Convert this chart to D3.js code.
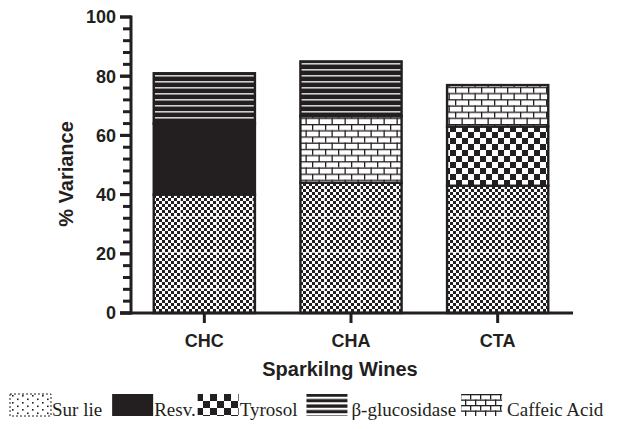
<!DOCTYPE html>
<html>
<head>
<meta charset="utf-8">
<script src="https://cdn.jsdelivr.net/npm/d3@7"></script>
<style>
  body { margin: 0; background: #fff; }
  svg { display: block; }
</style>
</head>
<body>
<svg id="chart" width="617" height="429"></svg>
<script>
// categories and series (stack order bottom -> top)
const wines = ['CHC', 'CHA', 'CTA'];
const seriesKeys = ['Sur lie', 'Resv.', 'Tyrosol', 'Caffeic Acid', 'β-glucosidase'];
const surLie = [40, 44, 43];
const resv = [24, 0, 0];
const tyrosol = [0, 0, 20];
const caffeic = [0, 22.5, 14];
const bGluc = [17, 18.5, 0];
const yTicks = [0, 20, 40, 60, 80, 100];
const legendOrder = ['Sur lie', 'Resv.', 'Tyrosol', 'β-glucosidase', 'Caffeic Acid'];

const ink = '#231f20';
const svg = d3.select('#chart');
const defs = svg.append('defs');

// build table for d3.stack
const table = wines.map((w, i) => ({
    wine: w,
    'Sur lie': surLie[i],
    'Resv.': resv[i],
    'Tyrosol': tyrosol[i],
    'Caffeic Acid': caffeic[i],
    'β-glucosidase': bGluc[i]
}));

// ---- patterns ----
function pattern(id, w, h) {
    const p = defs.append('pattern')
        .attr('id', id)
        .attr('patternUnits', 'userSpaceOnUse')
        .attr('width', w)
        .attr('height', h);
    return p;
}

// fine checker (Sur lie, bars)
const pSur = pattern('surlie', 36, 36);
pSur.append('rect').attr('width', 36).attr('height', 36).attr('fill', '#fff');
for (let i = 0; i < 12; i++) {
    for (let j = 0; j < 12; j++) {
        if ((i + j) % 2 === 0) {
            pSur.append('rect').attr('x', i * 3).attr('y', j * 3)
                .attr('width', 3).attr('height', 3).attr('fill', ink);
        }
    }
}
pSur.append('rect').attr('x', 0).attr('y', 0).attr('width', 1).attr('height', 36).attr('fill', '#fff').attr('opacity', 0.7);
pSur.append('rect').attr('x', 0).attr('y', 0).attr('width', 36).attr('height', 1).attr('fill', '#fff').attr('opacity', 0.7);

// sparse dots (Sur lie, legend)
const pSurLeg = pattern('surlieLeg', 10, 7);
pSurLeg.append('rect').attr('width', 10).attr('height', 7).attr('fill', '#fff');
pSurLeg.append('rect').attr('x', 2).attr('y', 1).attr('width', 1.6).attr('height', 1.6).attr('fill', ink);
pSurLeg.append('rect').attr('x', 7).attr('y', 4.5).attr('width', 1.6).attr('height', 1.6).attr('fill', ink);

// large checker (Tyrosol)
function checker(id, s) {
    const p = pattern(id, s * 2, s * 2);
    p.append('rect').attr('width', s * 2).attr('height', s * 2).attr('fill', '#fff');
    p.append('rect').attr('width', s).attr('height', s).attr('fill', ink);
    p.append('rect').attr('x', s).attr('y', s).attr('width', s).attr('height', s).attr('fill', ink);
}
checker('tyrosol', 6);
checker('tyrosolLeg', 7);

// brick (Caffeic Acid)
function brick(id, bw, bh) {
    const p = pattern(id, bw * 2, bh * 2);
    p.append('rect').attr('width', bw * 2).attr('height', bh * 2).attr('fill', '#fff');
    const lw = 1.3;
    p.append('rect').attr('y', 0).attr('width', bw * 2).attr('height', lw).attr('fill', ink);
    p.append('rect').attr('y', bh).attr('width', bw * 2).attr('height', lw).attr('fill', ink);
    p.append('rect').attr('x', 0).attr('y', 0).attr('width', lw).attr('height', bh).attr('fill', ink);
    p.append('rect').attr('x', bw).attr('y', 0).attr('width', lw).attr('height', bh).attr('fill', ink);
    p.append('rect').attr('x', bw / 2).attr('y', bh).attr('width', lw).attr('height', bh).attr('fill', ink);
    p.append('rect').attr('x', bw * 1.5).attr('y', bh).attr('width', lw).attr('height', bh).attr('fill', ink);
}
brick('caffeic', 13, 6.2);
brick('caffeicLeg', 10, 5.5);

// horizontal stripes (beta-glucosidase)
function stripes(id, period, lineH, color) {
    const p = pattern(id, 10, period);
    p.append('rect').attr('width', 10).attr('height', period).attr('fill', ink);
    p.append('rect').attr('y', period / 2).attr('width', 10).attr('height', lineH).attr('fill', color);
}
stripes('bgluc', 6, 1.6, '#d0d0d0');
stripes('bglucLeg', 5.5, 2.2, '#fff');

const fillFor = {
    'Sur lie': 'url(#surlie)',
    'Resv.': ink,
    'Tyrosol': 'url(#tyrosol)',
    'Caffeic Acid': 'url(#caffeic)',
    'β-glucosidase': 'url(#bgluc)'
};
const legendFill = {
    'Sur lie': 'url(#surlieLeg)',
    'Resv.': ink,
    'Tyrosol': 'url(#tyrosolLeg)',
    'Caffeic Acid': 'url(#caffeicLeg)',
    'β-glucosidase': 'url(#bglucLeg)'
};

// ---- scales ----
const x = d3.scaleBand()
    .domain(wines)
    .range([131, 571])
    .paddingInner(0.31)
    .paddingOuter(0.155);

const y = d3.scaleLinear()
    .domain([0, 100])
    .range([313, 17]);

// ---- bars ----
const stacked = d3.stack().keys(seriesKeys)(table);

svg.append('g')
    .selectAll('g')
    .data(stacked)
    .join('g')
    .attr('fill', d => fillFor[d.key])
    .selectAll('rect')
    .data(d => d.filter(s => s[1] - s[0] > 0))
    .join('rect')
    .attr('x', d => x(d.data.wine))
    .attr('y', d => y(d[1]))
    .attr('width', x.bandwidth())
    .attr('height', d => y(d[0]) - y(d[1]))
    .attr('stroke', ink)
    .attr('stroke-width', 2.4);

// ---- y axis ----
const yAxis = svg.append('g').attr('transform', 'translate(131,0)');
yAxis.append('line')
    .attr('y1', y(0) + 1.5).attr('y2', y(100) - 1.5)
    .attr('stroke', ink).attr('stroke-width', 3);

const minorTicks = d3.range(0, 101, 4);
yAxis.selectAll('line.tick')
    .data(minorTicks.concat(yTicks))
    .join('line')
    .attr('class', 'tick')
    .attr('x1', d => yTicks.includes(d) ? -11 : -8)
    .attr('x2', 0)
    .attr('y1', d => y(d)).attr('y2', d => y(d))
    .attr('stroke', ink).attr('stroke-width', 3);

yAxis.selectAll('text')
    .data(yTicks)
    .join('text')
    .attr('x', -15)
    .attr('y', d => y(d))
    .attr('dy', '0.36em')
    .attr('text-anchor', 'end')
    .attr('font-family', 'Liberation Sans, Arial, sans-serif')
    .attr('font-weight', 'bold')
    .attr('font-size', 18)
    .attr('fill', ink)
    .text(d => d);

svg.append('text')
    .attr('transform', 'translate(73,174) rotate(-90)')
    .attr('text-anchor', 'middle')
    .attr('font-family', 'Liberation Sans, Arial, sans-serif')
    .attr('font-weight', 'bold')
    .attr('font-size', 20)
    .attr('fill', ink)
    .text('% Variance');

// ---- x axis ----
const xAxis = svg.append('g').attr('transform', `translate(0,${y(0)})`);
xAxis.append('line')
    .attr('x1', 120).attr('x2', 573)
    .attr('stroke', ink).attr('stroke-width', 3);

xAxis.selectAll('line.tick')
    .data(wines)
    .join('line')
    .attr('class', 'tick')
    .attr('x1', d => x(d) + x.bandwidth() / 2)
    .attr('x2', d => x(d) + x.bandwidth() / 2)
    .attr('y1', 0).attr('y2', 10)
    .attr('stroke', ink).attr('stroke-width', 3);

xAxis.selectAll('text')
    .data(wines)
    .join('text')
    .attr('x', d => x(d) + x.bandwidth() / 2)
    .attr('y', 34)
    .attr('text-anchor', 'middle')
    .attr('font-family', 'Liberation Sans, Arial, sans-serif')
    .attr('font-weight', 'bold')
    .attr('font-size', 18)
    .attr('fill', ink)
    .text(d => d);

svg.append('text')
    .attr('x', 340)
    .attr('y', 376)
    .attr('text-anchor', 'middle')
    .attr('font-family', 'Liberation Sans, Arial, sans-serif')
    .attr('font-weight', 'bold')
    .attr('font-size', 20)
    .attr('fill', ink)
    .text('Sparkilng Wines');

// ---- legend ----
const legend = svg.append('g').attr('transform', 'translate(0,394)');
const gaps = { 'Sur lie': 10, 'Resv.': 2, 'Tyrosol': 9, 'β-glucosidase': 5, 'Caffeic Acid': 0 };
const textPad = { 'Sur lie': 1, 'Resv.': 1, 'Tyrosol': 1, 'β-glucosidase': 4, 'Caffeic Acid': 5 };
let lx = 10;
legendOrder.forEach(k => {
    legend.append('rect')
        .attr('x', lx).attr('y', 0)
        .attr('width', 41).attr('height', 22)
        .attr('fill', legendFill[k])
        .attr('stroke', k === 'Sur lie' ? ink : 'none')
        .attr('stroke-width', 1)
        .attr('stroke-dasharray', k === 'Sur lie' ? '2,2' : null);
    const t = legend.append('text')
        .attr('x', lx + 41 + textPad[k])
        .attr('y', 22)
        .attr('font-family', 'Liberation Serif, Times New Roman, serif')
        .attr('font-size', 19)
        .attr('fill', ink)
        .text(k);
    lx = lx + 41 + textPad[k] + t.node().getComputedTextLength() + gaps[k];
});
</script>
</body>
</html>
